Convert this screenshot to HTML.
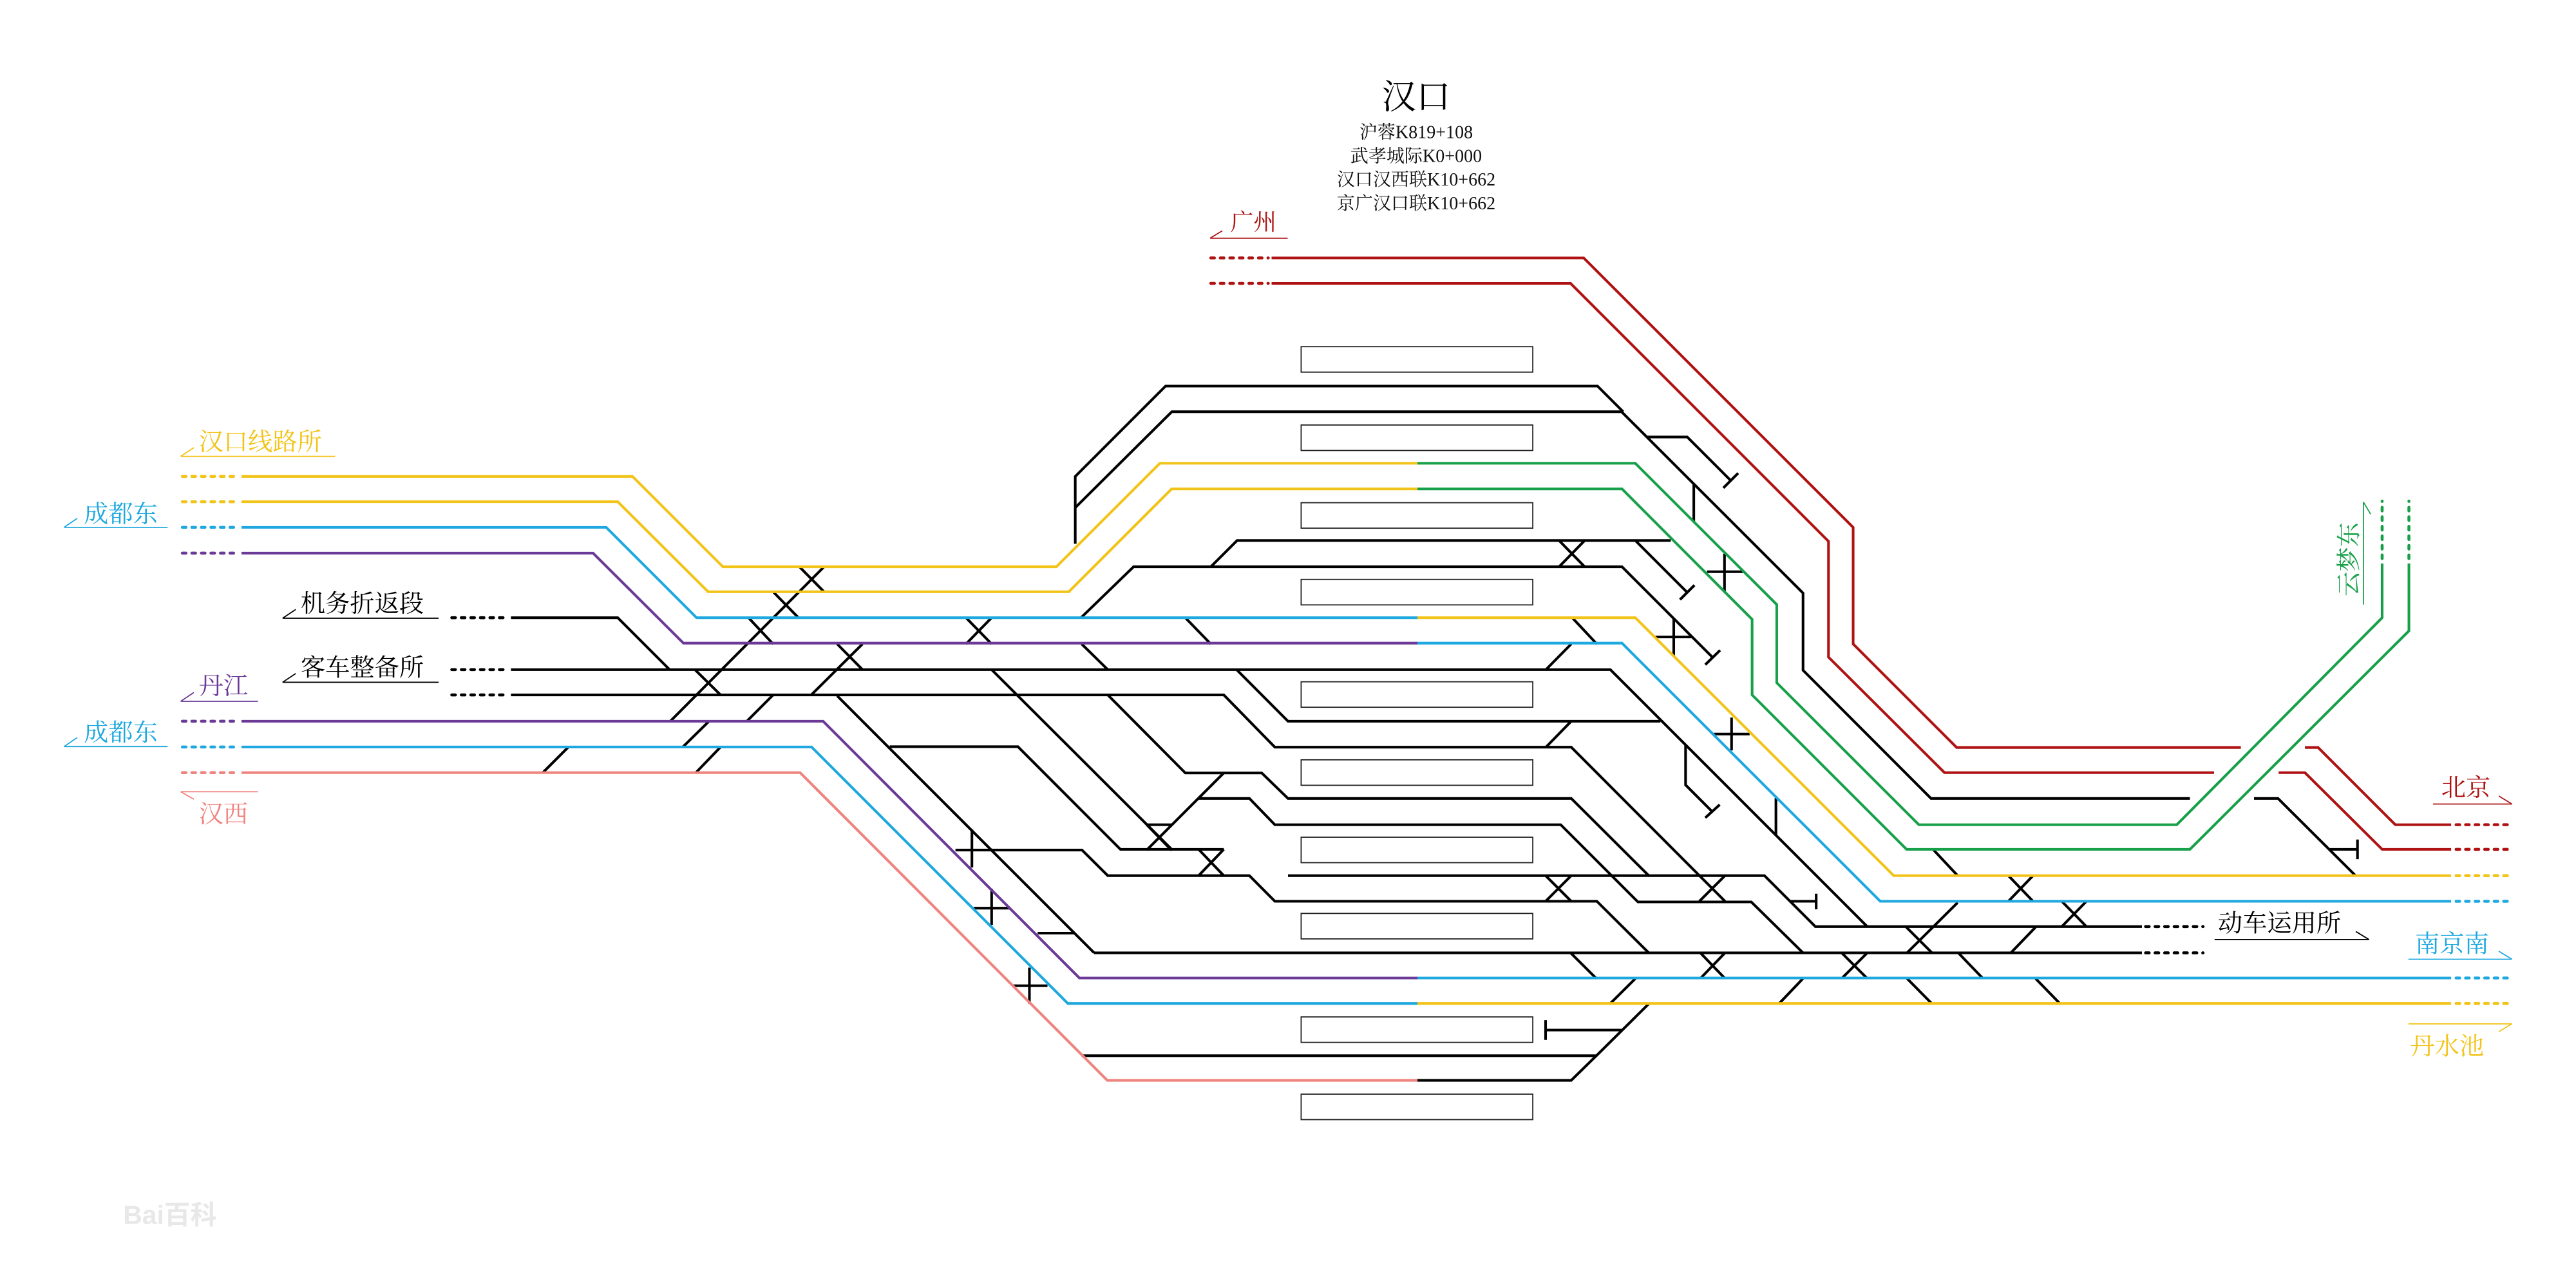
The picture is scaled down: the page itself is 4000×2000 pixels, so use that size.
<!DOCTYPE html>
<html><head><meta charset="utf-8"><style>
html,body{margin:0;padding:0;background:#fff;}
svg{display:block;}
text{font-family:"Liberation Serif","Noto Serif CJK SC",serif;}
</style></head><body>
<svg width="4000" height="2000" viewBox="0 0 1568 784" xmlns="http://www.w3.org/2000/svg">
<rect width="1568" height="784" fill="#fff"/>
<g fill="none" stroke-width="1.6" stroke-linejoin="miter">
<g stroke="#222" stroke-width="0.7" fill="#fff">
<rect x="792" y="211" width="141" height="15.5"/>
<rect x="792" y="258.7" width="141" height="15.5"/>
<rect x="792" y="306" width="141" height="15.5"/>
<rect x="792" y="352.7" width="141" height="15.5"/>
<rect x="792" y="415" width="141" height="15.5"/>
<rect x="792" y="462.5" width="141" height="15.5"/>
<rect x="792" y="509.6" width="141" height="15.5"/>
<rect x="792" y="556" width="141" height="15.5"/>
<rect x="792" y="619" width="141" height="15.5"/>
<rect x="792" y="666" width="141" height="15.5"/>
</g>
<g stroke="#000">
<path d="M654.5,331 L654.5,290 L709.5,235 L972.4,235 L988,250.6"/>
<path d="M654.5,309 L713.3,250.6 L987,250.6 L1097.5,361 L1097.5,408 L1175.4,486 L1333,486"/>
<path d="M1372,486 L1386.6,486 L1433.8,533 M1418,517 L1435,517 M1435,511 L1435,523"/>
<path d="M1002.5,266 L1027,266 L1053,292 M1049,297 L1058,288"/>
<path d="M1031,294.6 L1031,317.6 M1049.7,337 L1049.7,360 M1039,348 L1061,348"/>
<path d="M737,345 L753,329 L1017,329 M949,329 L964.6,345 M964.6,329 L949,345"/>
<path d="M995.4,329 L1027,360.6 M1022.6,365 L1031.4,356.2"/>
<path d="M658,376 L690,345 L987.3,345 L1042.5,400.2 M1038,404.6 L1047,395.8"/>
<path d="M1018.8,376.4 L1018.8,399 M1007.5,387.7 L1030,387.7"/>
<path d="M311,407.6 L980.2,407.6 L1136.4,563.8"/>
<path d="M311,376 L376,376 L407.6,407.6"/>
<path d="M311,423 L744.9,423 L776,454.8 L956.4,454.8 L1050,548.6 M1050,533 L1034.4,548.6"/>
<path d="M752.7,407.6 L784,439 L1010.7,439"/>
<path d="M674.3,423 L721.5,470.5 L768,470.5 L784,486 L956.4,486 L1003.6,533 L1074,533 L1105,564 L1303.8,564"/>
<path d="M729.6,486 L760.5,486 L776,502 L950,502 L997,549 L1066,549 L1097.5,580"/>
<path d="M666,580 L1303.8,580"/>
<path d="M509.6,423.6 L666,580"/>
<path d="M581.6,517.4 L658.6,517.4 L674.3,533 L760.5,533 L776,548.6 L972,548.6 L1003.6,580"/>
<path d="M784,533 L1003.6,533"/>
<path d="M541.6,454.5 L619.6,454.5 L682,517 L744.9,517 M729.6,517 L744.9,533 M744.9,517 L729.6,533"/>
<path d="M603.6,407.6 L713.6,517.4"/>
<path d="M744.9,470.5 L698,517.4 M698,502 L713,502 M698,502 L713,517.4"/>
<path d="M940.8,533 L956.4,548.6 M956.4,533 L940.8,548.6"/>
<path d="M1035,580 L1050,595.6 M1050,580 L1035,595.6"/>
<path d="M1121,580 L1136.6,595.6 M1136.6,580 L1121,595.6"/>
<path d="M1160,564 L1176,580 M1160.8,580 L1191.6,549.4 M1177,517.4 L1191.6,533"/>
<path d="M1222.5,533 L1237.5,548.6 M1237.5,533 L1222.5,548.6"/>
<path d="M1255,548.6 L1270,564 M1270,548.6 L1255,564 M1224,580 L1239,564.4"/>
<path d="M956,580 L971.7,595.6 M1192,580 L1207,595.6 M1160.8,595.6 L1176,611 M1239,595.6 L1254,611"/>
<path d="M980,611 L995.5,595.6 M1082.8,611 L1097.5,595.6"/>
<path d="M1090,548.6 L1105.5,548.6 M1105.5,544 L1105.5,553.5"/>
<path d="M1081,485.7 L1081,508.6 M1043,446.8 L1065,446.8 M1054,436.8 L1054,456.8"/>
<path d="M1026,453.8 L1026,477.8 L1042,493.8 M1038,497.8 L1046.8,489.8"/>
<path d="M957,376 L972,392 M941,407.6 L956.4,392 M941,454.8 L956.4,439"/>
<path d="M721.5,376 L737,392 M658.4,392 L674.3,407.6"/>
<path d="M658.4,642.6 L971.7,642.6 L1003.6,611 M862.8,657.6 L956.4,657.6 L971.7,642.6"/>
<path d="M940.8,627 L987,627 M940.8,621 L940.8,633"/>
<path d="M501.6,345 L408,439"/>
<path d="M486.6,345 L501.6,360.2 M470.6,360.2 L486,376 M455.6,376 L470.6,392 M423,407.6 L438.6,423"/>
<path d="M509.6,392 L525,407.6 M525,392 L493.6,423.2"/>
<path d="M470.6,423 L454.6,439 M431.6,439 L415.6,454.7 M438.6,454.7 L423.6,470.3 M346,454.7 L330.4,470.3"/>
<path d="M588,376 L603.6,392 M603.6,376 L588,392"/>
<path d="M591.6,505 L591.6,528 M603.6,541 L603.6,563 M592.6,552.8 L614.6,552.8 M631.6,568 L653.6,568 M626.6,589 L626.6,611 M616.6,600 L637.6,600"/>
</g>
<g stroke-dasharray="2.2 3.6" stroke-linecap="round" stroke-width="1.8">
<path stroke="#000" d="M275,376 L309,376 M275,407.6 L309,407.6 M275,423 L309,423 M1306,564 L1341,564 M1306,580 L1341,580"/>
<path stroke="#f2c318" d="M111,290 L145,290 M111,305.4 L145,305.4 M1495,533 L1529,533 M1495,610.8 L1529,610.8"/>
<path stroke="#17a049" d="M1450,340 L1450,305 M1466.3,340 L1466.3,305"/>
<path stroke="#1ea8df" d="M111,321 L145,321 M111,454.7 L145,454.7 M1495,548.6 L1529,548.6 M1495,595.3 L1529,595.3"/>
<path stroke="#6b3a97" d="M111,336.7 L145,336.7 M111,439 L145,439"/>
<path stroke="#ef837e" d="M111,470.3 L145,470.3"/>
<path stroke="#ae1212" d="M737,157 L772,157 M737,172.5 L772,172.5 M1495,502 L1529,502 M1495,517 L1529,517"/>
</g>
<g stroke="#f2c318">
<path d="M147,290 L385,290 L440,345 L643,345 L706,282 L862.8,282"/>
<path d="M147,305.4 L376,305.4 L431,360.2 L650.6,360.2 L713.2,297.6 L862.8,297.6"/>
<path d="M862.8,376 L995.4,376 L1152.7,533 L1492,533"/>
<path d="M862.8,610.8 L1492,610.8"/>
</g>
<g stroke="#17a049">
<path d="M862.8,282 L995.4,282 L1081.5,368 L1081.5,415.6 L1168,502 L1325,502 L1450,376 L1450,343"/>
<path d="M862.8,297.6 L987.3,297.6 L1066.5,377 L1066.5,423 L1160.5,517 L1333,517 L1466.3,384 L1466.3,343"/>
</g>
<g stroke="#1ea8df">
<path d="M147,321 L369,321 L424,376 L862.8,376"/>
<path d="M862.8,391.5 L987.3,391.5 L1144.5,548.6 L1492,548.6"/>
<path d="M862.8,595.3 L1492,595.3"/>
<path d="M147,454.7 L494,454.7 L650,610.8 L862.8,610.8"/>
</g>
<g stroke="#6b3a97">
<path d="M147,336.7 L361,336.7 L416,391.5 L862.8,391.5"/>
<path d="M147,439 L501,439 L657,595.3 L862.8,595.3"/>
</g>
<g stroke="#ef837e">
<path d="M147,470.3 L487,470.3 L674,657.6 L862.8,657.6"/>
</g>
<g stroke="#ae1212">
<path d="M774,157 L964,157 L1128,321 L1128,392 L1191,455 L1364,455"/>
<path d="M1403,455 L1411,455 L1458,502 L1492,502"/>
<path d="M774,172.5 L956,172.5 L1113,329.5 L1113,400 L1183.6,470.3 L1347.7,470.3"/>
<path d="M1387,470.3 L1403,470.3 L1450,517 L1492,517"/>
</g>
<g stroke-width="0.7">
<path stroke="#ae1212" d="M736.6,145 L783.8,145 M736.6,145 L744,140.5"/>
<path stroke="#f2c318" d="M110,277.8 L204,277.8 M110,277.8 L118,272.5"/>
<path stroke="#1ea8df" d="M39,321 L102,321 M39,321 L47,315.5"/>
<path stroke="#000" d="M172,376.3 L267,376.3 M172,376.3 L180,371"/>
<path stroke="#000" d="M172,415.3 L267,415.3 M172,415.3 L180,410"/>
<path stroke="#6b3a97" d="M110,426.9 L157,426.9 M110,426.9 L118,421.5"/>
<path stroke="#1ea8df" d="M39,454.4 L102,454.4 M39,454.4 L47,449"/>
<path stroke="#ef837e" d="M110,481.9 L157,481.9 M110,481.9 L118,486.5"/>
<path stroke="#ae1212" d="M1481,489.4 L1529,489.4 M1529,489.4 L1521,484.5"/>
<path stroke="#1ea8df" d="M1466,583.9 L1529,583.9 M1529,583.9 L1521,579"/>
<path stroke="#f2c318" d="M1466,623.2 L1529,623.2 M1529,623.2 L1521,628"/>
<path stroke="#000" d="M1348,571.9 L1442,571.9 M1442,571.9 L1434,567"/>
<path stroke="#17a049" d="M1438.6,305.6 L1438.6,368 M1438.6,305.6 L1443,313"/>
</g>
</g>
<text x="862" y="66" font-size="21" text-anchor="middle" fill="#000">汉口</text>
<g font-size="11" text-anchor="middle" fill="#111">
<text x="862" y="84">沪蓉K819+108</text>
<text x="862" y="98.5">武孝城际K0+000</text>
<text x="862" y="113">汉口汉西联K10+662</text>
<text x="862" y="127.5">京广汉口联K10+662</text>
</g>
<g font-size="15">
<text x="749" y="140" fill="#ae1212" font-size="14">广州</text>
<text x="121" y="274" fill="#f2c318">汉口线路所</text>
<text x="51" y="318" fill="#1ea8df">成都东</text>
<text x="183" y="372.5" fill="#000">机务折返段</text>
<text x="183" y="411.5" fill="#000">客车整备所</text>
<text x="121" y="422.5" fill="#6b3a97">丹江</text>
<text x="51" y="451" fill="#1ea8df">成都东</text>
<text x="121" y="500.5" fill="#ef837e">汉西</text>
<text x="1486" y="484.5" fill="#ae1212">北京</text>
<text x="1470" y="579.5" fill="#1ea8df">南京南</text>
<text x="1467" y="642" fill="#f2c318">丹水池</text>
<text x="1350" y="567" fill="#000">动车运用所</text>
<text x="0" y="0" fill="#17a049" transform="translate(1435,363) rotate(-90)">云梦东</text>
</g>
<text x="75" y="745" font-size="16" fill="#e8e8e8" font-weight="bold" style="font-family:'Liberation Sans','Noto Sans CJK SC',sans-serif">Bai百科</text>
</svg>
</body></html>
